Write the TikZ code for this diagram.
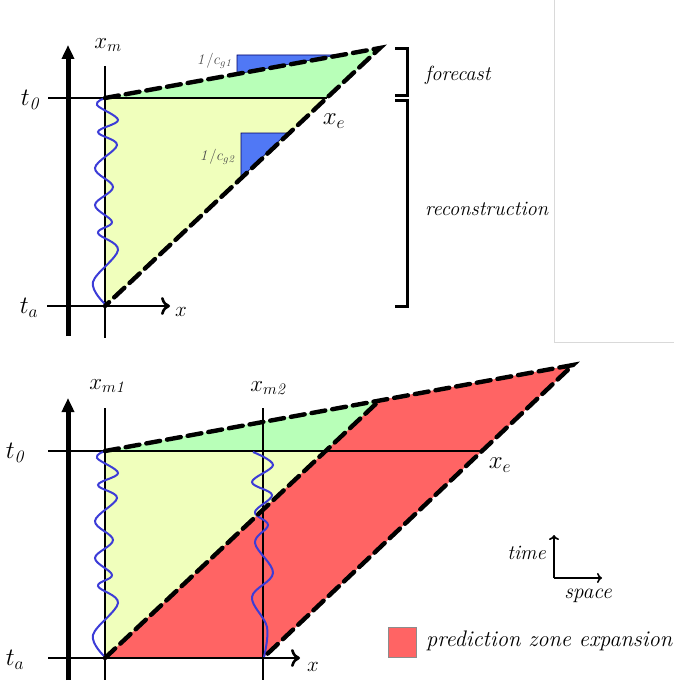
\documentclass[tikz,border=0pt]{standalone}
\usepackage{fix-cm}
\usepackage{amsmath,amssymb}
\usepackage{tikz}
\usetikzlibrary{calc,arrows.meta}

\definecolor{fcgreen}{RGB}{184,255,184}
\definecolor{recyellow}{RGB}{240,255,188}
\definecolor{zonered}{RGB}{255,100,100}
\definecolor{slopeblue}{RGB}{80,120,245}
\definecolor{wavblue}{RGB}{60,60,215}

\tikzset{
  timeaxis/.style={line width=5pt, -{Triangle[length=14pt,width=12pt]}},
  gridline/.style={line width=2.6pt},
  spaceaxis/.style={line width=2.6pt, -{To[length=9pt,width=18pt]}},
  cone/.style={line width=4.4pt, dash pattern=on 14pt off 7pt, line cap=round},
  wave/.style={wavblue, line width=2pt, smooth, tension=0.6},
  slope/.style={fill=slopeblue, draw=blue!40!black, line width=0.6pt},
  bracket/.style={line width=3pt},
  lab/.style={font=\fontsize{23}{27}\selectfont, inner sep=0pt},
  biglab/.style={font=\fontsize{25}{30}\selectfont, inner sep=0pt},
  tlab/.style={font=\fontsize{20.5}{24}\selectfont\itshape, inner sep=0pt},
  slab/.style={font=\fontsize{15}{18}\selectfont, text=black!70, inner sep=0pt}
}

\begin{document}
\begin{tikzpicture}[x=1pt, y=-1pt]
\useasboundingbox (0,0) rectangle (674,698);

% ---------------- Top diagram ----------------
\coordinate (xmT) at (105,98);
\coordinate (taT) at (105,306);
\coordinate (apexT) at (380,48);
\coordinate (xeT) at (327,98);

% Regions
\fill[fcgreen] (xmT) -- (apexT) -- (xeT) -- cycle;
\fill[recyellow] (xmT) -- (xeT) -- (taT) -- cycle;

% Slope triangles
\filldraw[slope] (337,55) -- (237,55) -- (237,74) -- cycle;
\filldraw[slope] (287,133) -- (241,133) -- (241,178) -- cycle;
\node[slab, anchor=east] (cg1) at (233,61) {$\mathit{1}/c_{g\mathit{1}}$};
\node[slab, anchor=east] (cg2) at (236,157) {$\mathit{1}/c_{g\mathit{2}}$};

% Axes
\draw[gridline] (48,98) -- (xeT);
\draw[spaceaxis] (47,306) -- (170,306);
\draw[gridline] (105,66) -- (105,338);
\draw[timeaxis] (68,336) -- (68,45);

% Measured signal
\draw[wave] plot coordinates {(105,98) (97,105) (118,120) (98,132) (117,145)
  (95,168) (113,187) (95,205) (112,222) (98,233) (118,250) (93,282) (105,304)};

% Cone boundaries
\draw[cone] (xmT) -- (apexT) -- (taT);

% Labels
\node[lab] (xm) at (108,45) {$x_m$};
\node[biglab] (t0T) at (31,100) {$t_{\mathit{0}}$};
\node[biglab] (taLT) at (29,308) {$t_a$};
\node[biglab] (xeLT) at (334,121) {$x_e$};
\node[lab, font=\fontsize{21}{25}\selectfont] (xT) at (181,312) {$x$};

% Brackets
\draw[bracket] (395,49) -- (407,49) -- (407,96) -- (395,96);
\draw[bracket] (395,101) -- (407,101) -- (407,306) -- (395,306);
\node[tlab, anchor=west] (fc) at (425,75) {forecast};
\node[tlab, anchor=west] (rec) at (425,209) {reconstruction};

% Frame
\draw[black!15, line width=0.8pt] (554,0) -- (554,342) -- (674,342);

% ---------------- Bottom diagram ----------------
\coordinate (xmB) at (105,451);
\coordinate (taB) at (105,658);
\coordinate (tbB) at (263,658);
\coordinate (apexB1) at (380,400);
\coordinate (apexB2) at (573,365);
\coordinate (xgB) at (326,451);
\coordinate (xeB) at (484,451);

% Regions
\fill[fcgreen] (xmB) -- (apexB1) -- (xgB) -- cycle;
\fill[recyellow] (xmB) -- (xgB) -- (taB) -- cycle;
\fill[zonered] (taB) -- (tbB) -- (apexB2) -- (apexB1) -- cycle;

% Axes
\draw[gridline] (48,451) -- (xeB);
\draw[spaceaxis] (48,658) -- (300,658);
\draw[gridline] (105,408) -- (105,680);
\draw[gridline] (263,408) -- (263,680);
\draw[timeaxis] (68,680) -- (68,398);

% Measured signals
\draw[wave] plot coordinates {(105,451) (97,458) (118,473) (98,485) (117,498)
  (95,521) (113,540) (95,558) (112,575) (98,586) (118,603) (93,635) (105,657)};
\draw[wave] plot coordinates {(253,452) (273,465) (252,482) (272,495) (255,512)
  (268,525) (255,543) (273,573) (252,597) (267,627) (264,657)};

% Cone boundaries
\draw[cone] (xmB) -- (apexB2) -- (tbB);
\draw[cone] (taB) -- (apexB1);

% Labels
\node[lab] (xm1) at (108,386) {$x_{m\mathit{1}}$};
\node[lab] (xm2) at (269,388) {$x_{m\mathit{2}}$};
\node[biglab] (t0B) at (16,453) {$t_{\mathit{0}}$};
\node[biglab] (taLB) at (15,660) {$t_a$};
\node[biglab] (xeLB) at (500,465) {$x_e$};
\node[lab, font=\fontsize{21}{25}\selectfont] (xB) at (313,667) {$x$};

% Orientation
\coordinate (orig) at (554,578);
\draw[line width=1.6pt, -{To[length=5pt,width=10pt]}] (orig) -- ++(0,-43);
\draw[line width=1.6pt, -{To[length=5pt,width=10pt]}] (orig) -- ++(48,0);
\node[tlab, anchor=east] (time) at (546,553) {time};
\node[tlab, font=\fontsize{21.5}{25}\selectfont\itshape] (space) at (588,596) {space};

% Legend
\filldraw[fill=zonered, draw=black!45, line width=0.8pt] (388,627) rectangle (416,657);
\node[tlab, font=\fontsize{22.5}{27}\selectfont\itshape, anchor=west] (leg) at (426,641) {prediction zone expansion};

\end{tikzpicture}
\end{document}
